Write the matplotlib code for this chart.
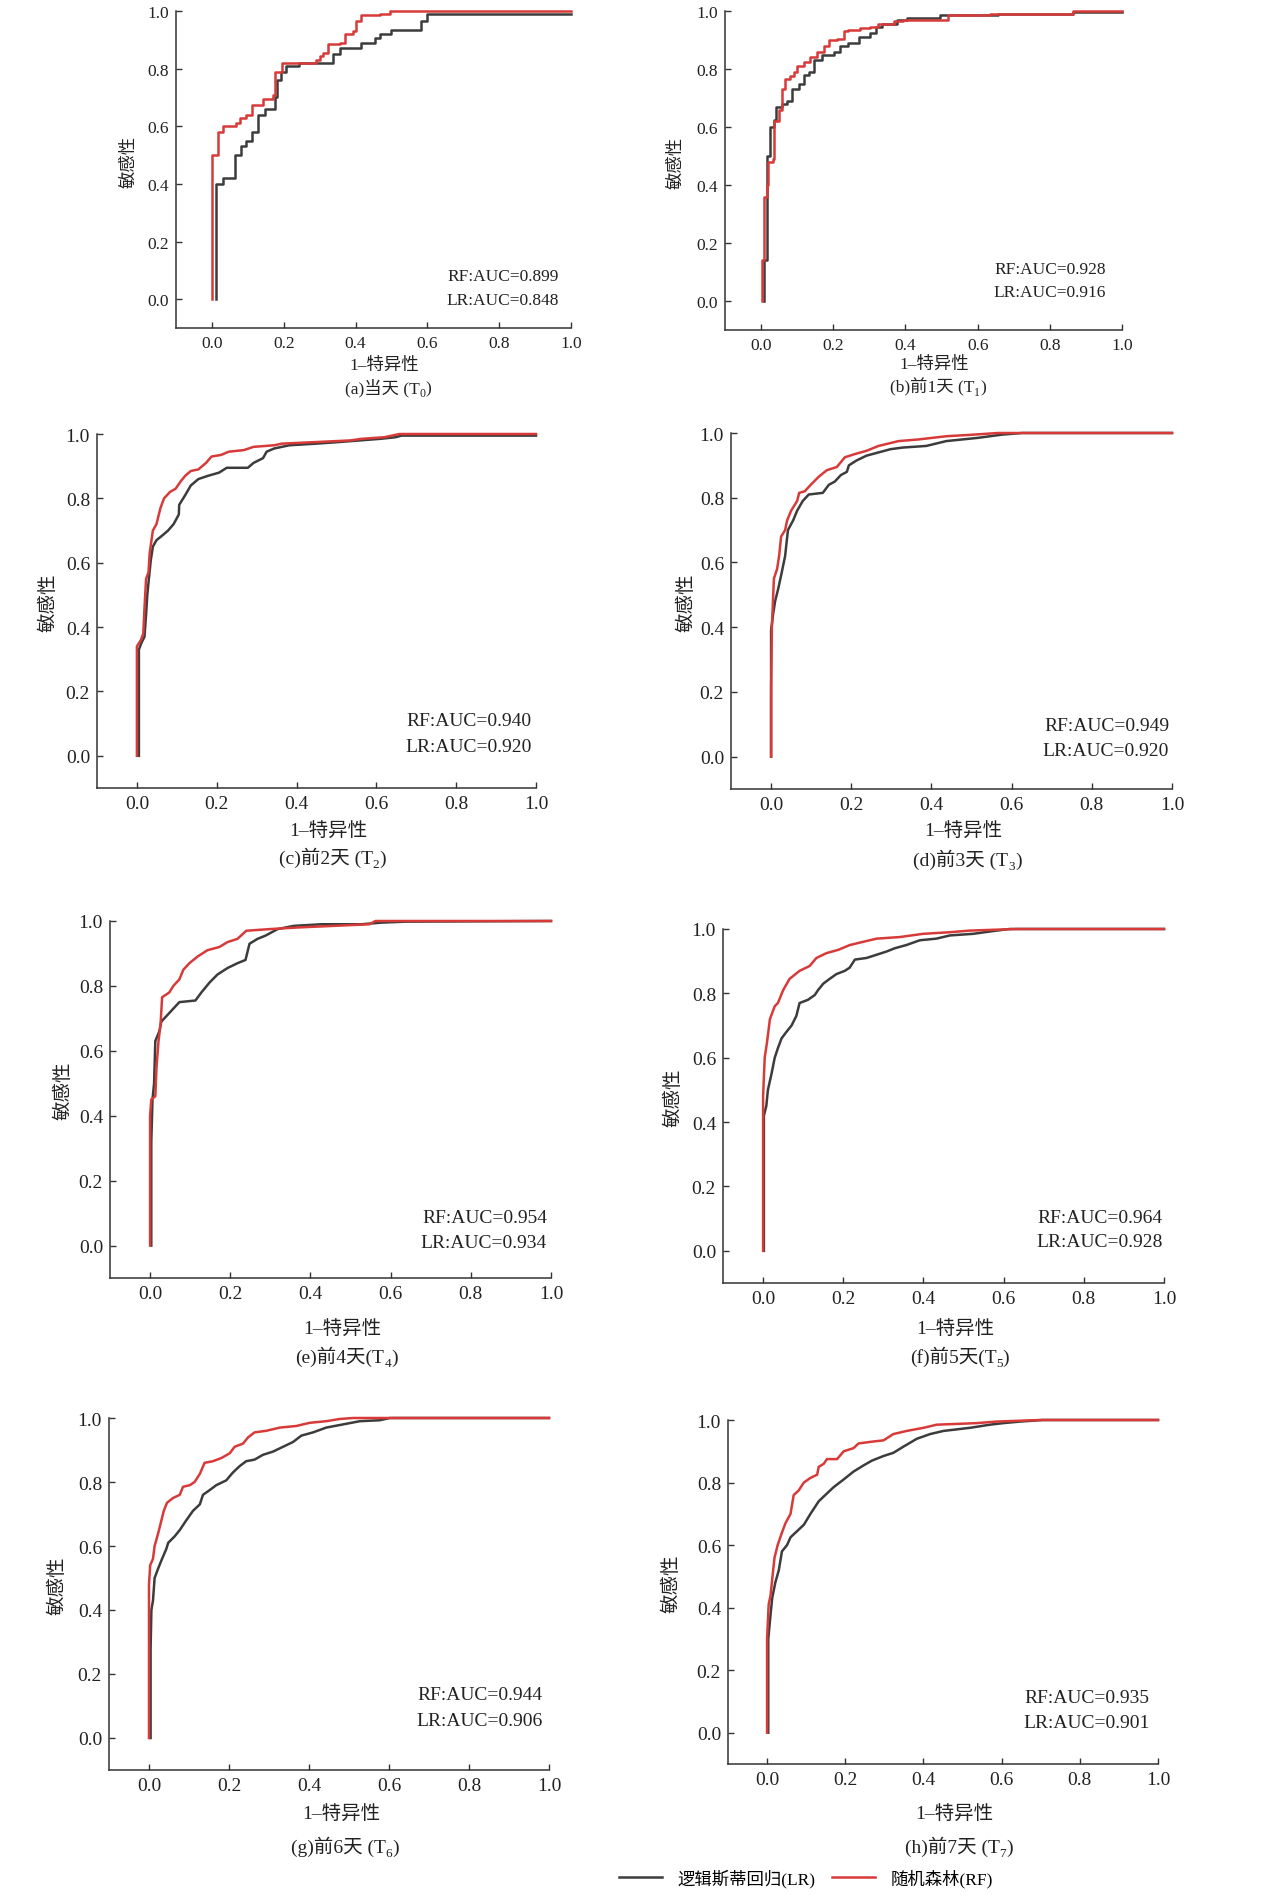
import numpy as np
import matplotlib
matplotlib.use("Agg")
import matplotlib.pyplot as plt
from matplotlib.lines import Line2D

plt.rcParams['font.family'] = ['Liberation Serif', 'Noto Sans CJK SC']

GRAY = '#3c3c3c'
RED = '#d83a3a'
TXT = '#222222'

# ---- données (1-spécificité, sensibilité) ----
a_lr_x = [0.012, 0.012, 0.031, 0.063, 0.082, 0.096, 0.112, 0.128, 0.149, 0.177, 0.180, 0.193, 0.207, 0.243,
          0.337, 0.356, 0.416, 0.453, 0.467, 0.500, 0.582, 0.598, 1.0]
a_lr_y = [0.0, 0.40, 0.42, 0.50, 0.53, 0.55, 0.58, 0.64, 0.66, 0.70, 0.76, 0.79, 0.81, 0.82,
          0.85, 0.87, 0.89, 0.905, 0.92, 0.935, 0.965, 0.988, 0.988]
a_rf_x = [0.0, 0.0, 0.017, 0.017, 0.031, 0.068, 0.077, 0.096, 0.112, 0.142, 0.170, 0.177, 0.196, 0.291,
          0.300, 0.308, 0.323, 0.356, 0.372, 0.393, 0.402, 0.416, 0.467, 0.495, 1.0]
a_rf_y = [0.0, 0.50, 0.53, 0.58, 0.60, 0.61, 0.63, 0.64, 0.675, 0.695, 0.71, 0.79, 0.82, 0.83,
          0.845, 0.855, 0.885, 0.89, 0.92, 0.93, 0.965, 0.985, 0.99, 1.0, 1.0]

b_lr_x = [0.007, 0.007, 0.015, 0.017, 0.026, 0.035, 0.042, 0.058, 0.072, 0.086, 0.104, 0.118, 0.132, 0.146,
          0.169, 0.201, 0.219, 0.242, 0.270, 0.302, 0.318, 0.335, 0.376, 0.404, 0.496, 0.657, 0.864, 1.0]
b_lr_y = [0.0, 0.14, 0.35, 0.50, 0.60, 0.625, 0.67, 0.68, 0.69, 0.73, 0.75, 0.78, 0.79, 0.83,
          0.85, 0.86, 0.88, 0.89, 0.91, 0.925, 0.945, 0.955, 0.97, 0.975, 0.985, 0.99, 0.995, 0.995]
b_rf_x = [0.003, 0.003, 0.008, 0.015, 0.018, 0.033, 0.035, 0.049, 0.058, 0.067, 0.081, 0.092, 0.100, 0.118,
          0.136, 0.155, 0.173, 0.189, 0.210, 0.229, 0.242, 0.275, 0.302, 0.325, 0.367, 0.394, 0.505, 0.519,
          0.634, 0.864, 1.0]
b_rf_y = [0.0, 0.14, 0.36, 0.40, 0.48, 0.49, 0.62, 0.66, 0.73, 0.765, 0.775, 0.79, 0.81, 0.825,
          0.84, 0.86, 0.88, 0.90, 0.905, 0.93, 0.935, 0.94, 0.945, 0.955, 0.965, 0.97, 0.97, 0.985,
          0.99, 1.0, 1.0]

c_lr_x = [0.005, 0.005, 0.011, 0.019, 0.023, 0.026, 0.030, 0.035, 0.040, 0.049, 0.064, 0.078, 0.092, 0.105,
          0.106, 0.121, 0.135, 0.154, 0.178, 0.206, 0.225, 0.278, 0.292, 0.316, 0.325, 0.344, 0.382, 0.449,
          0.506, 0.610, 0.648, 0.663, 1.0]
c_lr_y = [0.0, 0.33, 0.35, 0.37, 0.44, 0.50, 0.55, 0.61, 0.65, 0.67, 0.685, 0.70, 0.72, 0.75,
          0.78, 0.81, 0.84, 0.86, 0.87, 0.88, 0.895, 0.895, 0.91, 0.925, 0.945, 0.955, 0.965, 0.97,
          0.975, 0.985, 0.99, 0.995, 0.995]
c_rf_x = [0.0, 0.0, 0.010, 0.016, 0.019, 0.023, 0.029, 0.032, 0.040, 0.049, 0.059, 0.068, 0.083, 0.097,
          0.111, 0.121, 0.135, 0.154, 0.173, 0.187, 0.211, 0.230, 0.268, 0.292, 0.344, 0.363, 0.449, 0.534,
          0.563, 0.620, 0.658, 1.0]
c_rf_y = [0.0, 0.34, 0.36, 0.38, 0.46, 0.55, 0.57, 0.63, 0.70, 0.72, 0.77, 0.80, 0.82, 0.83,
          0.855, 0.87, 0.885, 0.89, 0.91, 0.93, 0.935, 0.945, 0.95, 0.96, 0.965, 0.97, 0.975, 0.98,
          0.985, 0.99, 1.0, 1.0]

d_lr_x = [0.0, 0.0, 0.005, 0.010, 0.018, 0.025, 0.035, 0.042, 0.055, 0.065, 0.079, 0.094, 0.129, 0.144,
          0.159, 0.174, 0.189, 0.194, 0.213, 0.238, 0.268, 0.298, 0.328, 0.387, 0.437, 0.516, 0.576, 0.626, 1.0]
d_lr_y = [0.0, 0.39, 0.44, 0.48, 0.52, 0.56, 0.62, 0.70, 0.73, 0.76, 0.79, 0.81, 0.815, 0.84,
          0.85, 0.87, 0.88, 0.90, 0.915, 0.93, 0.94, 0.95, 0.955, 0.96, 0.975, 0.985, 0.995, 1.0, 1.0]
d_rf_x = [0.0, 0.0, 0.002, 0.007, 0.015, 0.020, 0.025, 0.035, 0.040, 0.050, 0.065, 0.070, 0.084, 0.099,
          0.119, 0.139, 0.164, 0.184, 0.209, 0.238, 0.268, 0.318, 0.367, 0.437, 0.506, 0.566, 1.0]
d_rf_y = [0.0, 0.20, 0.40, 0.55, 0.58, 0.62, 0.68, 0.70, 0.73, 0.76, 0.79, 0.815, 0.82, 0.84,
          0.865, 0.885, 0.895, 0.925, 0.935, 0.945, 0.96, 0.975, 0.98, 0.99, 0.995, 1.0, 1.0]

e_lr_x = [0.003, 0.003, 0.006, 0.010, 0.013, 0.023, 0.028, 0.043, 0.058, 0.073, 0.113, 0.128, 0.148, 0.168,
          0.193, 0.218, 0.238, 0.248, 0.268, 0.288, 0.318, 0.358, 0.428, 0.527, 0.577, 0.637, 1.0]
e_lr_y = [0.0, 0.32, 0.45, 0.50, 0.63, 0.66, 0.69, 0.71, 0.73, 0.75, 0.755, 0.78, 0.81, 0.835,
          0.855, 0.87, 0.88, 0.93, 0.945, 0.955, 0.975, 0.985, 0.99, 0.99, 0.995, 0.998, 1.0]
e_rf_x = [0.0, 0.0, 0.003, 0.013, 0.016, 0.021, 0.026, 0.030, 0.048, 0.058, 0.073, 0.083, 0.098, 0.118,
          0.143, 0.173, 0.193, 0.218, 0.240, 0.298, 0.368, 0.547, 0.562, 1.0]
e_rf_y = [0.0, 0.40, 0.45, 0.46, 0.55, 0.63, 0.68, 0.765, 0.78, 0.80, 0.82, 0.85, 0.87, 0.89,
          0.91, 0.92, 0.935, 0.945, 0.97, 0.975, 0.98, 0.99, 1.0, 1.0]

f_lr_x = [0.002, 0.002, 0.008, 0.012, 0.021, 0.029, 0.037, 0.046, 0.058, 0.071, 0.083, 0.091, 0.112, 0.129,
          0.137, 0.150, 0.166, 0.183, 0.204, 0.216, 0.229, 0.258, 0.283, 0.308, 0.328, 0.357, 0.391, 0.432,
          0.466, 0.524, 0.582, 0.615, 1.0]
f_lr_y = [0.0, 0.42, 0.45, 0.50, 0.55, 0.60, 0.63, 0.66, 0.68, 0.70, 0.73, 0.77, 0.78, 0.795,
          0.81, 0.83, 0.845, 0.86, 0.87, 0.88, 0.905, 0.91, 0.92, 0.93, 0.94, 0.95, 0.965, 0.97,
          0.98, 0.985, 0.995, 1.0, 1.0]
f_rf_x = [0.0, 0.0, 0.004, 0.010, 0.017, 0.029, 0.037, 0.050, 0.066, 0.091, 0.116, 0.133, 0.158, 0.187,
          0.216, 0.249, 0.283, 0.341, 0.399, 0.466, 0.515, 0.632, 1.0]
f_rf_y = [0.0, 0.48, 0.60, 0.65, 0.72, 0.76, 0.77, 0.81, 0.845, 0.87, 0.885, 0.91, 0.925, 0.935,
          0.95, 0.96, 0.97, 0.975, 0.985, 0.99, 0.995, 1.0, 1.0]

g_lr_x = [0.004, 0.004, 0.006, 0.010, 0.014, 0.023, 0.031, 0.043, 0.048, 0.064, 0.077, 0.093, 0.110, 0.127,
          0.135, 0.152, 0.168, 0.193, 0.210, 0.227, 0.243, 0.264, 0.285, 0.310, 0.335, 0.360, 0.381, 0.410,
          0.443, 0.485, 0.527, 0.577, 0.602, 1.0]
g_lr_y = [0.0, 0.28, 0.40, 0.43, 0.50, 0.53, 0.555, 0.59, 0.61, 0.63, 0.65, 0.68, 0.71, 0.73,
          0.76, 0.775, 0.79, 0.805, 0.83, 0.85, 0.865, 0.87, 0.885, 0.895, 0.91, 0.925, 0.945, 0.955,
          0.97, 0.98, 0.99, 0.993, 1.0, 1.0]
g_rf_x = [0.0, 0.0, 0.003, 0.010, 0.014, 0.023, 0.031, 0.037, 0.045, 0.060, 0.077, 0.085, 0.102, 0.114,
          0.127, 0.139, 0.160, 0.181, 0.202, 0.214, 0.235, 0.248, 0.264, 0.293, 0.327, 0.368, 0.402, 0.443,
          0.477, 0.510, 1.0]
g_rf_y = [0.0, 0.48, 0.54, 0.56, 0.60, 0.64, 0.68, 0.71, 0.735, 0.75, 0.76, 0.785, 0.79, 0.80,
          0.825, 0.86, 0.865, 0.875, 0.89, 0.91, 0.92, 0.94, 0.955, 0.96, 0.97, 0.975, 0.985, 0.99,
          0.997, 1.0, 1.0]

h_lr_x = [0.003, 0.003, 0.009, 0.013, 0.021, 0.030, 0.038, 0.051, 0.060, 0.077, 0.094, 0.111, 0.132, 0.153,
          0.170, 0.196, 0.221, 0.247, 0.268, 0.298, 0.323, 0.349, 0.383, 0.417, 0.451, 0.485, 0.519, 0.570,
          0.604, 0.647, 0.706, 1.0]
h_lr_y = [0.0, 0.30, 0.38, 0.43, 0.48, 0.52, 0.58, 0.60, 0.625, 0.645, 0.665, 0.70, 0.74, 0.765,
          0.785, 0.81, 0.835, 0.855, 0.87, 0.885, 0.895, 0.915, 0.94, 0.955, 0.965, 0.97, 0.975, 0.985,
          0.99, 0.995, 1.0, 1.0]
h_rf_x = [0.0, 0.0, 0.004, 0.009, 0.013, 0.019, 0.027, 0.038, 0.047, 0.060, 0.068, 0.081, 0.094, 0.111,
          0.128, 0.132, 0.145, 0.153, 0.179, 0.196, 0.221, 0.234, 0.264, 0.298, 0.323, 0.357, 0.400, 0.434,
          0.536, 0.587, 0.698, 1.0]
h_rf_y = [0.0, 0.30, 0.41, 0.44, 0.49, 0.56, 0.60, 0.64, 0.67, 0.70, 0.76, 0.775, 0.80, 0.815,
          0.825, 0.85, 0.86, 0.875, 0.875, 0.90, 0.91, 0.925, 0.93, 0.935, 0.955, 0.965, 0.975, 0.985,
          0.99, 0.995, 1.0, 1.0]

rf_auc = [0.899, 0.928, 0.940, 0.949, 0.954, 0.964, 0.944, 0.935]
lr_auc = [0.848, 0.916, 0.920, 0.920, 0.934, 0.928, 0.906, 0.901]
cap_main = ['(a)当天 (T', '(b)前1天 (T', '(c)前2天 (T', '(d)前3天 (T',
            '(e)前4天(T', '(f)前5天(T', '(g)前6天 (T', '(h)前7天 (T']
cap_sub = ['0', '1', '2', '3', '4', '5', '6', '7']
lr_curves = [(a_lr_x, a_lr_y), (b_lr_x, b_lr_y), (c_lr_x, c_lr_y), (d_lr_x, d_lr_y),
             (e_lr_x, e_lr_y), (f_lr_x, f_lr_y), (g_lr_x, g_lr_y), (h_lr_x, h_lr_y)]
rf_curves = [(a_rf_x, a_rf_y), (b_rf_x, b_rf_y), (c_rf_x, c_rf_y), (d_rf_x, d_rf_y),
             (e_rf_x, e_rf_y), (f_rf_x, f_rf_y), (g_rf_x, g_rf_y), (h_rf_x, h_rf_y)]
ticks = [0.0, 0.2, 0.4, 0.6, 0.8, 1.0]

# ---- mise en page (pixels : gauche, haut, droite, bas) ----
W, H = 1268, 1899
PT = 72 / 100  # px -> points
boxes = [(176, 12, 571, 329), (725, 12, 1122, 331),
         (97, 435, 536, 789), (731, 434, 1172, 790),
         (110, 922, 551, 1279), (723, 930, 1164, 1284),
         (109, 1419, 549, 1771), (728, 1421, 1158, 1765)]
fsizes = [12.5, 12.5, 14, 14, 14, 14, 14, 14]
styles = ['steps-post', 'steps-post'] + ['default'] * 6
auc_pos = [(0.967, 0.079, -0.003), (0.955, 0.109, 0.031), (0.99, 0.109, 0.029), (0.993, 0.096, 0.019),
           (0.99, 0.087, 0.010), (0.996, 0.104, 0.028), (0.985, 0.137, 0.056), (0.979, 0.114, 0.034)]
lab_off = [(37, 59), (34, 56), (43, 69), (42, 70), (51, 78), (46, 73), (44, 76), (50, 82)]
ylab_off = [47, 49, 49, 45, 47, 50, 52, 57]

fig = plt.figure(figsize=(W / 100, H / 100), dpi=100)
renderer = fig.canvas.get_renderer()


def text_width(s, size):
    t = fig.text(0, 0, s, fontsize=size)
    w = t.get_window_extent(renderer).width
    t.remove()
    return w


for i in range(8):
    L, T, R, B = boxes[i]
    fs = fsizes[i]
    ax = fig.add_axes([L / W, 1 - B / H, (R - L) / W, (B - T) / H])
    ax.plot(*lr_curves[i], color=GRAY, lw=1.8, drawstyle=styles[i], clip_on=False)
    ax.plot(*rf_curves[i], color=RED, lw=1.8, drawstyle=styles[i], clip_on=False)
    ax.set_xlim(-0.1, 1.0)
    ax.set_ylim(-0.1, 1.0)
    for s in ['top', 'right']:
        ax.spines[s].set_visible(False)
    for s in ['left', 'bottom']:
        ax.spines[s].set_linewidth(1.1)
        ax.spines[s].set_color('#333333')
    ax.set_xticks(ticks)
    ax.set_yticks(ticks)
    ax.set_xticklabels([f'{t:.1f}' for t in ticks])
    ax.set_yticklabels([f'{t:.1f}' for t in ticks])
    ax.tick_params(direction='in', length=4.5, width=1.0, pad=5, labelsize=fs,
                   color='#333333', labelcolor=TXT)

    xr, yrf, ylr = auc_pos[i]
    ax.text(xr, yrf, f'RF:AUC={rf_auc[i]:.3f}', ha='right', va='center', fontsize=fs, color=TXT)
    ax.text(xr, ylr, f'LR:AUC={lr_auc[i]:.3f}', ha='right', va='center', fontsize=fs, color=TXT)

    d1, d2 = lab_off[i]
    ax.annotate('1–特异性', xy=(0.48, 0), xycoords=('data', 'axes fraction'),
                xytext=(0, -d1 * PT), textcoords='offset points',
                ha='center', va='center', fontsize=fs, color=TXT)

    # légende de sous-figure : texte + indice placé à la main
    sub_fs = fs * 0.68
    w1 = text_width(cap_main[i], fs)
    w2 = text_width(cap_sub[i], sub_fs)
    w3 = text_width(')', fs)
    x0 = -(w1 + w2 + w3) / 2
    base = -d2 * PT - 0.3 * fs
    parts = [(cap_main[i], fs, x0, base),
             (cap_sub[i], sub_fs, x0 + w1, base - 0.22 * fs),
             (')', fs, x0 + w1 + w2, base)]
    for s, size, ox, oy in parts:
        ax.annotate(s, xy=(0.49, 0), xycoords=('data', 'axes fraction'),
                    xytext=(ox * PT, oy), textcoords='offset points',
                    ha='left', va='baseline', fontsize=size, color=TXT)

    ax.annotate('敏感性', xy=(0, 0.48), xycoords=('axes fraction', 'data'),
                xytext=(-ylab_off[i] * PT, 0), textcoords='offset points', rotation=90,
                ha='center', va='center', fontsize=fs, color=TXT)

handles = [Line2D([], [], color=GRAY, lw=1.8), Line2D([], [], color=RED, lw=1.8)]
fig.legend(handles, ['逻辑斯蒂回归(LR)', '随机森林(RF)'], loc='center left',
           bbox_to_anchor=(619 / W, 1 - 1879 / H), ncol=2, frameon=False, fontsize=12.5,
           handlelength=2.5, handletextpad=0.9, columnspacing=0.9, borderpad=0, borderaxespad=0)

fig.savefig('out.png', dpi=100)
